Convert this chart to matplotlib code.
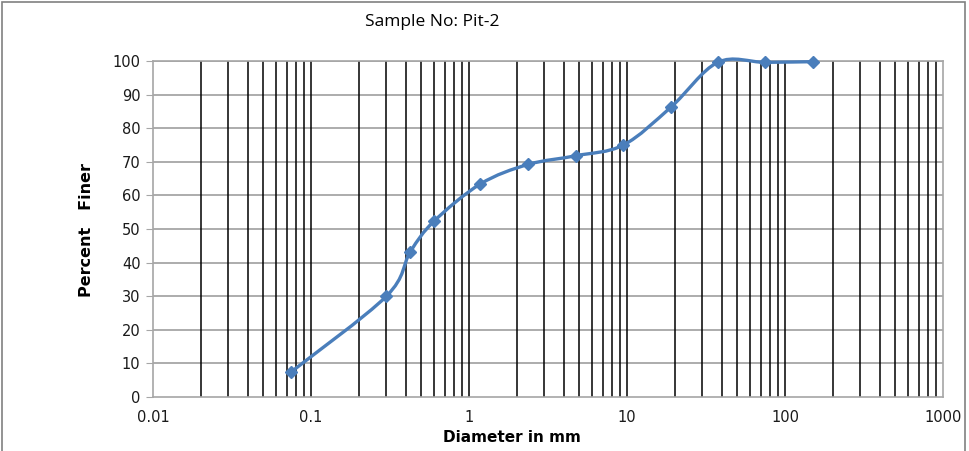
import numpy as np
import matplotlib
matplotlib.use("Agg")
import matplotlib.pyplot as plt
from matplotlib.path import Path
from matplotlib.patches import PathPatch, Rectangle
from matplotlib.ticker import FixedLocator, NullFormatter

title = "Sample No: Pit-2"
x_label = "Diameter in mm"
y_label = "Percent   Finer"
diameters = [0.075, 0.3, 0.425, 0.6, 1.18, 2.36, 4.75, 9.5, 19, 37.5, 75, 150]
percent_finer = [7.5, 30, 43.2, 52.3, 63.4, 69.2, 71.8, 75, 86.3, 99.6, 99.6, 99.8]
x_ticks = [0.01, 0.1, 1, 10, 100, 1000]
x_tick_labels = ["0.01", "0.1", "1", "10", "100", "1000"]
y_ticks = [0, 10, 20, 30, 40, 50, 60, 70, 80, 90, 100]

color = "#4a7ebb"
fig = plt.figure(figsize=(9.70, 4.51), dpi=100)
ax = fig.add_axes([153/970, 1-397/451, 790/970, 336/451])
ax.set_xscale("log")
ax.set_xlim(0.01, 1000)
ax.set_ylim(0, 100)

# grid lines
minor = [m * 10.0**e for e in range(-2, 3) for m in range(2, 10)]
for v in minor + x_ticks[1:-1]:
    ax.axvline(v, color="black", lw=1.1, zorder=1)
for v in y_ticks[1:]:
    ax.axhline(v, color="#a6a6a6", lw=1.3, zorder=0.5)

ax.xaxis.set_major_locator(FixedLocator(x_ticks))
ax.set_xticklabels(x_tick_labels)
ax.xaxis.set_minor_locator(FixedLocator(minor))
ax.xaxis.set_minor_formatter(NullFormatter())
ax.set_yticks(y_ticks)
ax.tick_params(axis="x", which="both", length=0, labelsize=10.5, pad=9,
               labelcolor="#1a1a1a")
ax.tick_params(axis="y", length=5, color="#a6a6a6", labelsize=10.5, pad=4,
               labelcolor="#1a1a1a")
for s in ax.spines.values():
    s.set_color("#a6a6a6")
    s.set_linewidth(1.2)

# smoothed (Excel-like Catmull-Rom bezier) in axes coordinates
u = (np.log10(diameters) + 2) / 5.0
v = np.array(percent_finer) / 100.0
pts = np.column_stack([u * 790, v * 336])
n = len(pts)
verts = [pts[0]]
codes = [Path.MOVETO]
for i in range(n - 1):
    p0 = pts[i - 1] if i > 0 else pts[i]
    p1 = pts[i]
    p2 = pts[i + 1]
    p3 = pts[i + 2] if i + 2 < n else pts[i + 1]
    c1 = p1 + (p2 - p0) / 6.0
    c2 = p2 - (p3 - p1) / 6.0
    verts += [c1, c2, p2]
    codes += [Path.CURVE4] * 3
verts = np.array(verts) / np.array([790, 336])
path = Path(verts, codes)
ax.add_patch(PathPatch(path, transform=ax.transAxes, fill=False,
                       edgecolor=color, lw=2.4, zorder=3, clip_on=False))
ax.plot(diameters, percent_finer, linestyle="none", marker="D", ms=6.5,
        color=color, zorder=4, clip_on=False)

fig.text(432/970, 1-22/451, title, ha="center", va="center", fontsize=12.5,
         family="Open Sans")
fig.text(87/970, 1-230/451, y_label, ha="center", va="center", rotation=90,
         fontsize=11.5, fontweight="bold", family="DejaVu Sans")
fig.text(512/970, 1-437/451, x_label, ha="center", va="center", fontsize=11,
         fontweight="bold", family="Liberation Sans Narrow")

fig.add_artist(Rectangle((2/970, -0.01), 963/970, 1-2/451 + 0.01,
                         transform=fig.transFigure, fill=False,
                         edgecolor="#808080", lw=1.2))
fig.savefig("out.png", dpi=100)
